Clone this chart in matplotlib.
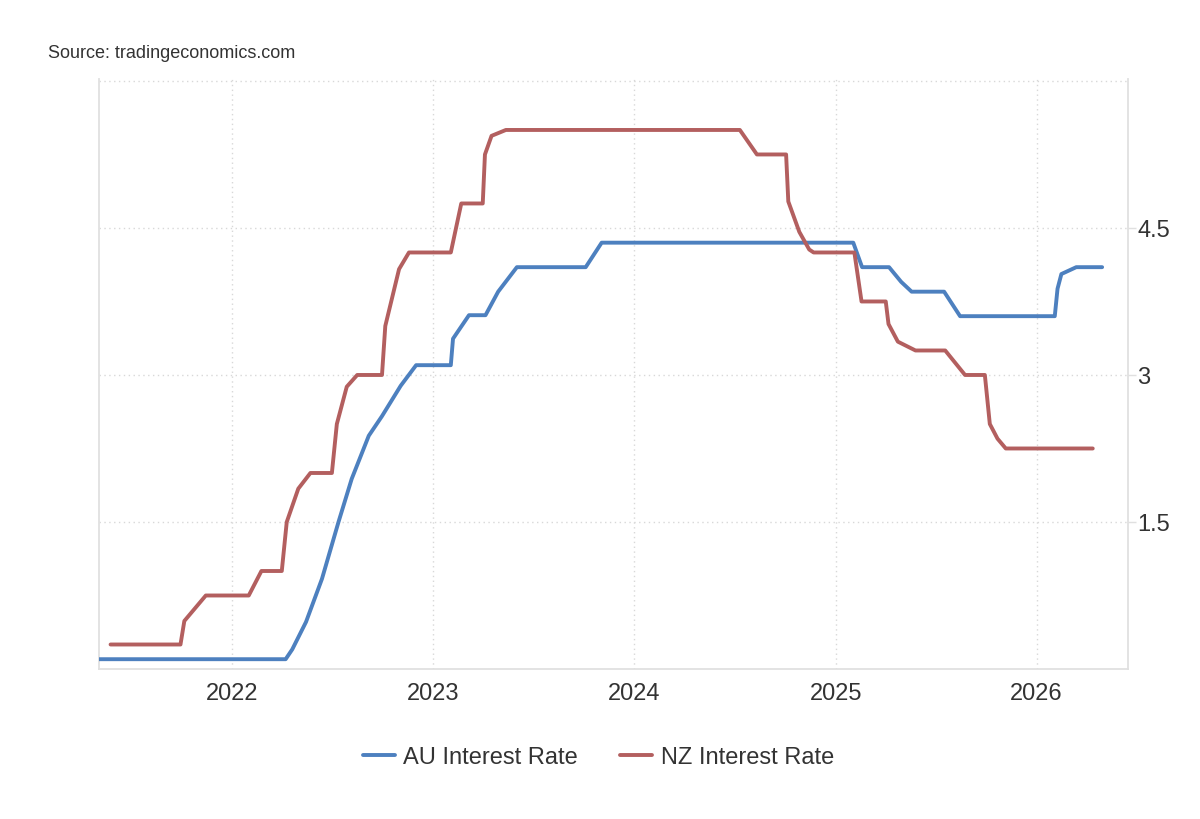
import pandas as pd
import matplotlib
matplotlib.use("Agg")
import matplotlib.pyplot as plt
import matplotlib.dates as mdates

# values (date, rate in %)
au_dates = ["2021-05-01", "2022-04-08", "2022-04-20", "2022-05-15", "2022-06-13",
            "2022-07-13", "2022-08-06", "2022-09-06", "2022-09-30", "2022-11-03",
            "2022-12-01", "2023-02-02", "2023-02-06", "2023-03-07", "2023-04-06",
            "2023-04-29", "2023-06-02", "2023-10-05", "2023-11-03", "2025-02-02",
            "2025-02-18", "2025-04-08", "2025-04-30", "2025-05-19", "2025-07-17",
            "2025-08-15", "2026-02-03", "2026-02-08", "2026-02-15", "2026-03-14",
            "2026-04-30"]
au_rate = [0.10, 0.10, 0.20, 0.48, 0.92,
           1.50, 1.94, 2.38, 2.58, 2.89,
           3.10, 3.10, 3.37, 3.61, 3.61,
           3.85, 4.10, 4.10, 4.35, 4.35,
           4.10, 4.10, 3.95, 3.85, 3.85,
           3.60, 3.60, 3.88, 4.03, 4.10,
           4.10]

nz_dates = ["2021-05-25", "2021-09-29", "2021-10-06", "2021-11-14", "2022-01-31",
            "2022-02-23", "2022-04-01", "2022-04-10", "2022-05-01", "2022-05-23",
            "2022-07-01", "2022-07-10", "2022-07-28", "2022-08-16", "2022-09-30",
            "2022-10-06", "2022-10-31", "2022-11-18", "2023-02-02", "2023-02-21",
            "2023-04-01", "2023-04-05", "2023-04-17", "2023-05-13", "2024-07-11",
            "2024-08-11", "2024-10-03", "2024-10-07", "2024-10-27", "2024-11-14",
            "2024-11-22", "2025-02-04", "2025-02-17", "2025-04-02", "2025-04-07",
            "2025-04-24", "2025-05-26", "2025-07-19", "2025-08-24", "2025-09-29",
            "2025-10-08", "2025-10-22", "2025-11-06", "2026-04-13"]
nz_rate = [0.25, 0.25, 0.49, 0.75, 0.75,
           1.00, 1.00, 1.50, 1.84, 2.00,
           2.00, 2.50, 2.88, 3.00, 3.00,
           3.50, 4.08, 4.25, 4.25, 4.75,
           4.75, 5.25, 5.44, 5.50, 5.50,
           5.25, 5.25, 4.77, 4.46, 4.28,
           4.25, 4.25, 3.75, 3.75, 3.52,
           3.34, 3.25, 3.25, 3.00, 3.00,
           2.50, 2.35, 2.25, 2.25]

y_ticks = [1.5, 3, 4.5]

plt.rcParams['font.family'] = ['Liberation Sans', 'DejaVu Sans']

fig = plt.figure(figsize=(12, 8.2), dpi=100)
ax = fig.add_axes([99 / 1200, 1 - 670 / 820, (1128 - 99) / 1200, 590 / 820])

au_x = pd.to_datetime(au_dates)
nz_x = pd.to_datetime(nz_dates)
ax.plot(au_x, au_rate, color="#4d80bf", lw=2.8, solid_joinstyle="round",
        solid_capstyle="round", label="AU Interest Rate", zorder=3)
ax.plot(nz_x, nz_rate, color="#b35f5f", lw=2.8, solid_joinstyle="round",
        solid_capstyle="round", label="NZ Interest Rate", zorder=3)

ax.set_xlim(pd.Timestamp("2021-05-04"), pd.Timestamp("2026-06-16"))
ax.set_ylim(0, 6.02)

ax.xaxis.set_major_locator(mdates.YearLocator())
ax.xaxis.set_major_formatter(mdates.DateFormatter("%Y"))
ax.yaxis.tick_right()
ax.set_yticks(y_ticks)
ax.set_yticklabels([f"{v:g}" for v in y_ticks])

# dotted grid, incl. the top line at 6
for v in y_ticks + [6.0]:
    ax.axhline(v, color="#d8d8d8", lw=1, ls=(0, (1, 2.5)), zorder=1)
ax.grid(axis="x", color="#d8d8d8", lw=1, ls=(0, (1, 2.5)), zorder=1)

for side in ["left", "bottom", "right"]:
    ax.spines[side].set_color("#e0e0e0")
    ax.spines[side].set_linewidth(1.3)
ax.spines["top"].set_visible(False)

ax.tick_params(axis="x", length=0, pad=9.5, labelsize=17, labelcolor="#333333")
ax.tick_params(axis="y", length=6, width=1, color="#e0e0e0", pad=0.5,
               labelsize=17, labelcolor="#333333")

fig.text(48 / 1200, 1 - 53 / 820, "Source: tradingeconomics.com", fontsize=13,
         color="#333333", va="center", ha="left")

fig.legend(loc="center", bbox_to_anchor=(0.4985, 1 - 758 / 820), ncol=2,
           frameon=False, fontsize=17, handlelength=1.36, handletextpad=0.35,
           columnspacing=1.8, labelcolor="#333333")

fig.savefig("out.png", dpi=100)
